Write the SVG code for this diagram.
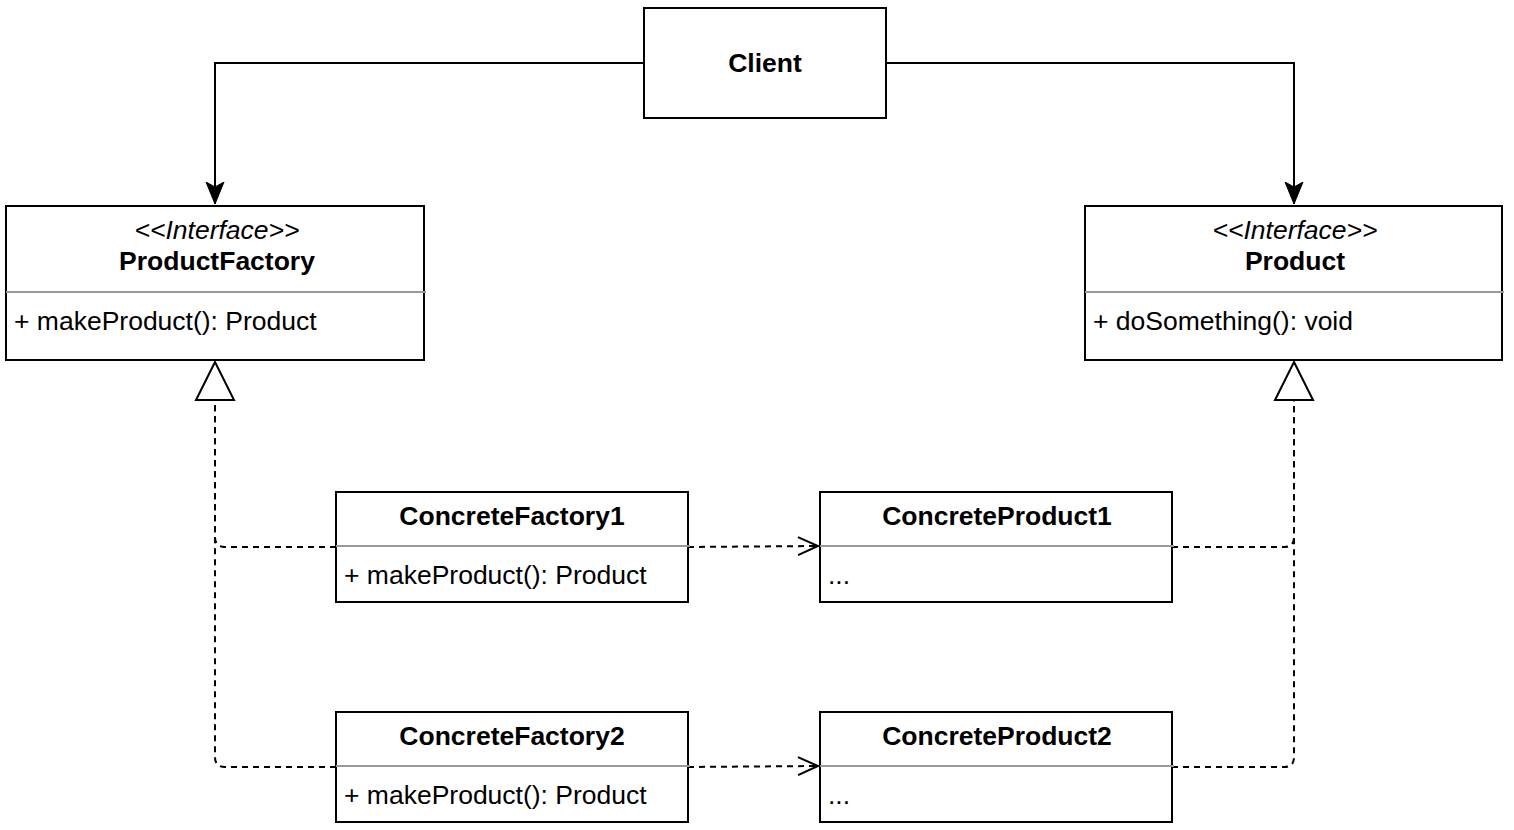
<svg xmlns="http://www.w3.org/2000/svg" width="1514" height="830" viewBox="0 0 1514 830">
<style>
.box{fill:#fff;stroke:#000;stroke-width:2}
.div{stroke:#999;stroke-width:2}
.t{font-family:"Liberation Sans",Arial,sans-serif;font-size:26.5px;fill:#000}
.b{font-weight:bold;text-anchor:middle}
.i{font-style:italic;text-anchor:middle}
.c{fill:none;stroke:#000;stroke-width:2}
.d{fill:none;stroke:#000;stroke-width:2;stroke-dasharray:6 5}
.tri{fill:#fff;stroke:#000;stroke-width:2}
</style>
<defs>
<marker id="arr" markerUnits="userSpaceOnUse" markerWidth="24" markerHeight="24" viewBox="0 0 24 24" refX="22" refY="12" orient="auto">
<path d="M0,3 L22,12 L0,21 L5,12 Z" fill="#000" stroke="#000" stroke-width="1"/>
</marker>
<marker id="open" markerUnits="userSpaceOnUse" markerWidth="26" markerHeight="26" viewBox="0 0 26 26" refX="23" refY="13" orient="auto">
<path d="M2,4 L22,13 L2,22" fill="none" stroke="#000" stroke-width="2"/>
</marker>
</defs>
<g id="connectors">
<path class="c" d="M644,63 L215,63 L215,204" marker-end="url(#arr)"/>
<path class="c" d="M886,63 L1294,63 L1294,204" marker-end="url(#arr)"/>
<path class="d" d="M336,547 L225,547 Q215,547 215,537 L215,400"/>
<path class="d" d="M336,767 L225,767 Q215,767 215,757 L215,400"/>
<path class="d" d="M1172,547 L1284,547 Q1294,547 1294,537 L1294,400"/>
<path class="d" d="M1172,767 L1284,767 Q1294,767 1294,757 L1294,400"/>
<polygon class="tri" points="215,362 234,400 196,400"/>
<polygon class="tri" points="1294,362 1313,400 1275,400"/>
<path class="d" d="M688,547 L819,546" marker-end="url(#open)"/>
<path class="d" d="M688,767 L819,766" marker-end="url(#open)"/>
</g>
<g id="client">
<rect class="box" x="644" y="8" width="242" height="110"/>
<text class="t b" x="765" y="72">Client</text>
</g>
<g id="productfactory">
<rect class="box" x="6" y="206" width="418" height="154"/>
<line class="div" x1="6" y1="292" x2="426" y2="292"/>
<text class="t i" x="217" y="239">&lt;&lt;Interface&gt;&gt;</text>
<text class="t b" x="217" y="270">ProductFactory</text>
<text class="t" x="14" y="330">+ makeProduct(): Product</text>
</g>
<g id="product">
<rect class="box" x="1085" y="206" width="417" height="154"/>
<line class="div" x1="1085" y1="292" x2="1504" y2="292"/>
<text class="t i" x="1295" y="239">&lt;&lt;Interface&gt;&gt;</text>
<text class="t b" x="1295" y="270">Product</text>
<text class="t" x="1093" y="330">+ doSomething(): void</text>
</g>
<g id="concretefactory1">
<rect class="box" x="336" y="492" width="352" height="110"/>
<line class="div" x1="336" y1="546" x2="690" y2="546"/>
<text class="t b" x="512" y="525">ConcreteFactory1</text>
<text class="t" x="344" y="584">+ makeProduct(): Product</text>
</g>
<g id="concreteproduct1">
<rect class="box" x="820" y="492" width="352" height="110"/>
<line class="div" x1="820" y1="546" x2="1174" y2="546"/>
<text class="t b" x="997" y="525">ConcreteProduct1</text>
<text class="t" x="828" y="584">...</text>
</g>
<g id="concretefactory2">
<rect class="box" x="336" y="712" width="352" height="110"/>
<line class="div" x1="336" y1="766" x2="690" y2="766"/>
<text class="t b" x="512" y="745">ConcreteFactory2</text>
<text class="t" x="344" y="804">+ makeProduct(): Product</text>
</g>
<g id="concreteproduct2">
<rect class="box" x="820" y="712" width="352" height="110"/>
<line class="div" x1="820" y1="766" x2="1174" y2="766"/>
<text class="t b" x="997" y="745">ConcreteProduct2</text>
<text class="t" x="828" y="804">...</text>
</g>
</svg>
